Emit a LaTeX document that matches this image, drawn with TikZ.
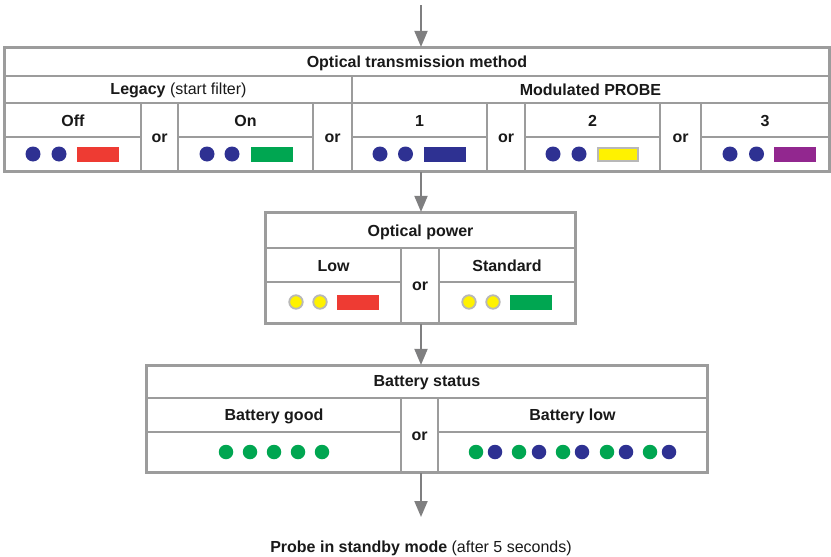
\documentclass[tikz,border=0pt]{standalone}
\usepackage{fontspec}
\setmainfont{Liberation Sans}
\usetikzlibrary{arrows.meta}
\definecolor{gridgray}{HTML}{9C9C9C}
\definecolor{arrowgray}{HTML}{7F7F80}
\definecolor{ledblue}{HTML}{2E3192}
\definecolor{ledred}{HTML}{EE3B33}
\definecolor{ledgreen}{HTML}{00A651}
\definecolor{ledyellow}{HTML}{FFF200}
\definecolor{ledpurple}{HTML}{92278F}
\definecolor{ringgray}{HTML}{B8B8B8}
\tikzset{
  tbl/.style={draw=gridgray, line width=2.2pt, inner sep=0pt, fill=white},
  grid/.style={draw=gridgray, line width=1.3pt},
  lbl/.style={font=\fontsize{16}{18}\selectfont\bfseries, inner sep=0pt, text=black!90},
  flow/.style={draw=arrowgray, line width=2pt, -{Triangle[length=16pt, width=13pt]}},
  bdot/.style={circle, fill=ledblue, minimum size=15pt, inner sep=0pt},
  gdot/.style={circle, fill=ledgreen, minimum size=14.5pt, inner sep=0pt},
  bldot/.style={circle, fill=ledblue, minimum size=14.5pt, inner sep=0pt},
  ydot/.style={circle, fill=ledyellow, draw=ringgray, line width=1.8pt, minimum size=13.5pt, inner sep=0pt},
  bar/.style={minimum width=42pt, minimum height=15pt, inner sep=0pt},
}
\begin{document}
\begin{tikzpicture}[x=1pt, y=-1pt]
\useasboundingbox (0,0) rectangle (831,557);

% ---------- Table 1: Optical transmission method ----------
\node[tbl, minimum width=824pt, minimum height=123pt] (t1) at (417,109.5) {};
\draw[grid] (5,76) -- (829,76);
\draw[grid] (5,103) -- (829,103);
\draw[grid] (5,137) -- (141,137) (178,137) -- (313,137) (352,137) -- (487,137)
            (525,137) -- (660,137) (701,137) -- (829,137);
\draw[grid] (352,76) -- (352,171);
\foreach \x in {141,178,313,487,525,660,701} \draw[grid] (\x,103) -- (\x,171);
\draw[tbl, fill=none] (t1.north west) rectangle (t1.south east);

\node[lbl] (t1title) at (417,63) {Optical transmission method};
\node[lbl] (legacy) at (178.5,90) {Legacy \textmd{(start filter)}};
\node[lbl] (modprobe) at (590.5,90) {Modulated PROBE};
\node[lbl] (off) at (73,121) {Off};
\node[lbl] (on) at (245.5,121) {On};
\node[lbl] (m1) at (419.5,121) {1};
\node[lbl] (m2) at (592.5,121) {2};
\node[lbl] (m3) at (765,121) {3};
\node[lbl] (or1) at (159.5,138.5) {or};
\node[lbl] (or2) at (332.5,138.5) {or};
\node[lbl] (or3) at (506,138.5) {or};
\node[lbl] (or4) at (680.5,138.5) {or};

\node[bdot] (d1a) at (33,154) {};
\node[bdot] (d1b) at (59,154) {};
\node[bar, fill=ledred] (r1) at (98,154.5) {};
\node[bdot] (d2a) at (207,154) {};
\node[bdot] (d2b) at (232,154) {};
\node[bar, fill=ledgreen] (r2) at (271.5,154.5) {};
\node[bdot] (d3a) at (380,154) {};
\node[bdot] (d3b) at (405.5,154) {};
\node[bar, fill=ledblue] (r3) at (444.5,154.5) {};
\node[bdot] (d4a) at (553,154) {};
\node[bdot] (d4b) at (579,154) {};
\node[bar, fill=ledyellow, draw=ringgray, line width=1.8pt, minimum width=40pt, minimum height=13pt] (r4) at (618,154.5) {};
\node[bdot] (d5a) at (730,154) {};
\node[bdot] (d5b) at (756.5,154) {};
\node[bar, fill=ledpurple] (r5) at (795,154.5) {};

% ---------- Table 2: Optical power ----------
\node[tbl, minimum width=309pt, minimum height=110pt] (t2) at (420.5,268) {};
\draw[grid] (266,248) -- (575,248);
\draw[grid] (266,282) -- (401,282) (439,282) -- (575,282);
\draw[grid] (401,248) -- (401,323) (439,248) -- (439,323);
\draw[tbl, fill=none] (t2.north west) rectangle (t2.south east);

\node[lbl] (t2title) at (420.5,232) {Optical power};
\node[lbl] (low) at (333.5,266) {Low};
\node[lbl] (std) at (507,266) {Standard};
\node[lbl] (or5) at (420,286.5) {or};
\node[ydot] (y1) at (296,302) {};
\node[ydot] (y2) at (320,302) {};
\node[bar, fill=ledred] (r6) at (358,302) {};
\node[ydot] (y3) at (469,302) {};
\node[ydot] (y4) at (493,302) {};
\node[bar, fill=ledgreen] (r7) at (531,302) {};

% ---------- Table 3: Battery status ----------
\node[tbl, minimum width=560pt, minimum height=106pt] (t3) at (427,419) {};
\draw[grid] (147,398) -- (707,398);
\draw[grid] (147,432) -- (401,432) (438,432) -- (707,432);
\draw[grid] (401,398) -- (401,472) (438,398) -- (438,472);
\draw[tbl, fill=none] (t3.north west) rectangle (t3.south east);

\node[lbl] (t3title) at (427,383) {Battery status};
\node[lbl] (bgood) at (274,416.5) {Battery good};
\node[lbl] (blow) at (572.5,416.5) {Battery low};
\node[lbl] (or6) at (419.5,436.5) {or};
\foreach \x [count=\i] in {226,250,274,298,322} \node[gdot] (g\i) at (\x,452) {};
\foreach \x [count=\i] in {476,519,563,607,650} \node[gdot] (lg\i) at (\x,452) {};
\foreach \x [count=\i] in {495,539,582,626,669} \node[bldot] (lb\i) at (\x,452) {};

% ---------- Flow ----------
\coordinate (start) at (421,5);
\node[lbl] (standby) at (421,548) {Probe in standby mode \textmd{(after 5 seconds)}};
\coordinate (end) at (421,517);
\draw[flow] (start) -- (start |- t1.north);
\draw[flow] (start |- t1.south) -- (start |- t2.north);
\draw[flow] (start |- t2.south) -- (start |- t3.north);
\draw[flow] (start |- t3.south) -- (end);
\end{tikzpicture}
\end{document}
